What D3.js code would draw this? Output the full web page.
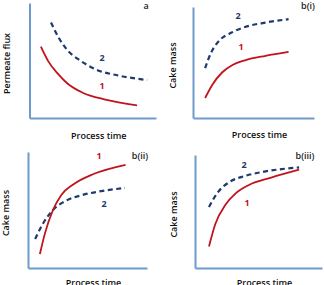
<!DOCTYPE html>
<html>
<head>
<meta charset="utf-8">
<script src="https://cdn.jsdelivr.net/npm/d3@7"></script>
<style>
  body { margin: 0; background: #fff; }
  text { font-family: "Open Sans", sans-serif; }
</style>
</head>
<body>
<div id="chart"></div>
<script>
// overall size
var svgWidth = 324;
var svgHeight = 285;

// curve values per panel, x and y on a 0-10 scale
var aCurve1X = [0.9, 1.5, 2.2, 3.0, 4.2, 6.0, 8.5];
var aCurve1Y = [6.2, 4.9, 3.9, 3.0, 2.2, 1.6, 1.1];
var aCurve2X = [1.7, 2.3, 3.0, 4.0, 5.3, 7.0, 9.3];
var aCurve2Y = [8.3, 7.0, 5.9, 5.0, 4.2, 3.7, 3.3];

var b1Curve1X = [1.0, 1.6, 2.4, 3.3, 4.3, 6.0, 7.9];
var b1Curve1Y = [1.8, 3.0, 4.1, 4.8, 5.2, 5.6, 5.95];
var b1Curve2X = [1.0, 1.5, 2.2, 3.2, 4.3, 6.0, 7.9];
var b1Curve2Y = [4.5, 5.9, 7.0, 7.7, 8.2, 8.6, 8.9];

var b2Curve1X = [1.0, 1.4, 2.1, 2.8, 3.8, 5.5, 8.2];
var b2Curve1Y = [1.2, 2.9, 5.0, 6.3, 7.2, 8.1, 8.9];
var b2Curve2X = [0.6, 1.3, 2.1, 3.2, 4.6, 6.3, 8.15];
var b2Curve2Y = [2.5, 3.9, 5.0, 5.8, 6.3, 6.65, 6.9];

var b3Curve1X = [1.1, 1.6, 2.4, 3.2, 4.25, 6.0, 8.2];
var b3Curve1Y = [1.9, 3.9, 5.6, 6.6, 7.35, 8.0, 8.7];
var b3Curve2X = [1.1, 1.8, 2.7, 3.8, 5.3, 6.8, 8.2];
var b3Curve2Y = [5.4, 6.7, 7.6, 8.1, 8.5, 8.75, 8.9];

var panelLabels = ["a", "b(i)", "b(ii)", "b(iii)"];
var yTitles = ["Permeate flux", "Cake mass", "Cake mass", "Cake mass"];
var xTitle = "Process time";

function zip(xs, ys) {
  return xs.map(function(x, i) { return {x: x, y: ys[i]}; });
}

// panel layout in pixels
var panels = [
  {left: 29.5, right: 156, top: 3, bottom: 118, yTitleX: 8, xTitleY: 137,
   c1: zip(aCurve1X, aCurve1Y), c2: zip(aCurve2X, aCurve2Y),
   lab1: [102, 87], lab2: [102, 59], tag: [146, 7]},
  {left: 193, right: 314, top: 7, bottom: 118, yTitleX: 174, xTitleY: 136,
   c1: zip(b1Curve1X, b1Curve1Y), c2: zip(b1Curve2X, b1Curve2Y),
   lab1: [241, 48], lab2: [238, 17], tag: [308, 7]},
  {left: 28, right: 147, top: 152, bottom: 268, yTitleX: 7, xTitleY: 284,
   c1: zip(b2Curve1X, b2Curve1Y), c2: zip(b2Curve2X, b2Curve2Y),
   lab1: [99, 157], lab2: [104, 205], tag: [140, 157]},
  {left: 195, right: 322, top: 155, bottom: 268, yTitleX: 175, xTitleY: 284,
   c1: zip(b3Curve1X, b3Curve1Y), c2: zip(b3Curve2X, b3Curve2Y),
   lab1: [247, 204], lab2: [244, 166], tag: [305, 157]}
];

var svg = d3.select("#chart")
  .append("svg")
  .attr("width", svgWidth)
  .attr("height", svgHeight);

var axisColor = "#6f9bcc";
var redColor = "#c0141c";
var navyColor = "#1f3a6e";

panels.forEach(function(p, i) {
  var x = d3.scaleLinear().domain([0, 10]).range([p.left, p.right]);
  var y = d3.scaleLinear().domain([0, 10]).range([p.bottom, p.top]);

  var g = svg.append("g");

  // axes: plain lines, no ticks
  var bottomAxis = d3.axisBottom(x).tickValues([]).tickSizeOuter(0);
  var leftAxis = d3.axisLeft(y).tickValues([]).tickSizeOuter(0);

  g.append("g")
    .attr("transform", "translate(0," + p.bottom + ")")
    .call(bottomAxis)
    .select(".domain")
    .attr("stroke", axisColor)
    .attr("stroke-width", 2);

  g.append("g")
    .attr("transform", "translate(" + p.left + ",0)")
    .call(leftAxis)
    .select(".domain")
    .attr("stroke", axisColor)
    .attr("stroke-width", 2);

  var line = d3.line()
    .x(function(d) { return x(d.x); })
    .y(function(d) { return y(d.y); })
    .curve(d3.curveMonotoneX);

  g.append("path")
    .datum(p.c2)
    .attr("d", line)
    .attr("fill", "none")
    .attr("stroke", navyColor)
    .attr("stroke-width", 2.2)
    .attr("stroke-dasharray", "5,3.5");

  g.append("path")
    .datum(p.c1)
    .attr("d", line)
    .attr("fill", "none")
    .attr("stroke", redColor)
    .attr("stroke-width", 1.8);

  // curve numbers
  g.append("text")
    .attr("x", p.lab1[0]).attr("y", p.lab1[1])
    .attr("text-anchor", "middle").attr("dominant-baseline", "middle")
    .attr("font-size", 9).attr("font-weight", 700)
    .attr("fill", redColor)
    .text("1");

  g.append("text")
    .attr("x", p.lab2[0]).attr("y", p.lab2[1])
    .attr("text-anchor", "middle").attr("dominant-baseline", "middle")
    .attr("font-size", 9).attr("font-weight", 700)
    .attr("fill", navyColor)
    .text("2");

  // panel tag
  g.append("text")
    .attr("x", p.tag[0]).attr("y", p.tag[1])
    .attr("text-anchor", "middle").attr("dominant-baseline", "middle")
    .attr("font-size", 9).attr("font-weight", 600)
    .attr("fill", "#222")
    .text(panelLabels[i]);

  // axis titles
  g.append("text")
    .attr("x", (p.left + p.right) / 2 + 6).attr("y", p.xTitleY)
    .attr("text-anchor", "middle").attr("dominant-baseline", "middle")
    .attr("font-size", 9).attr("font-weight", 600)
    .attr("fill", "#111")
    .text(xTitle);

  g.append("text")
    .attr("transform", "translate(" + p.yTitleX + "," + ((p.top + p.bottom) / 2 + 3) + ") rotate(-90)")
    .attr("text-anchor", "middle").attr("dominant-baseline", "middle")
    .attr("font-size", 9).attr("font-weight", 600)
    .attr("fill", "#111")
    .text(yTitles[i]);
});
</script>
</body>
</html>
